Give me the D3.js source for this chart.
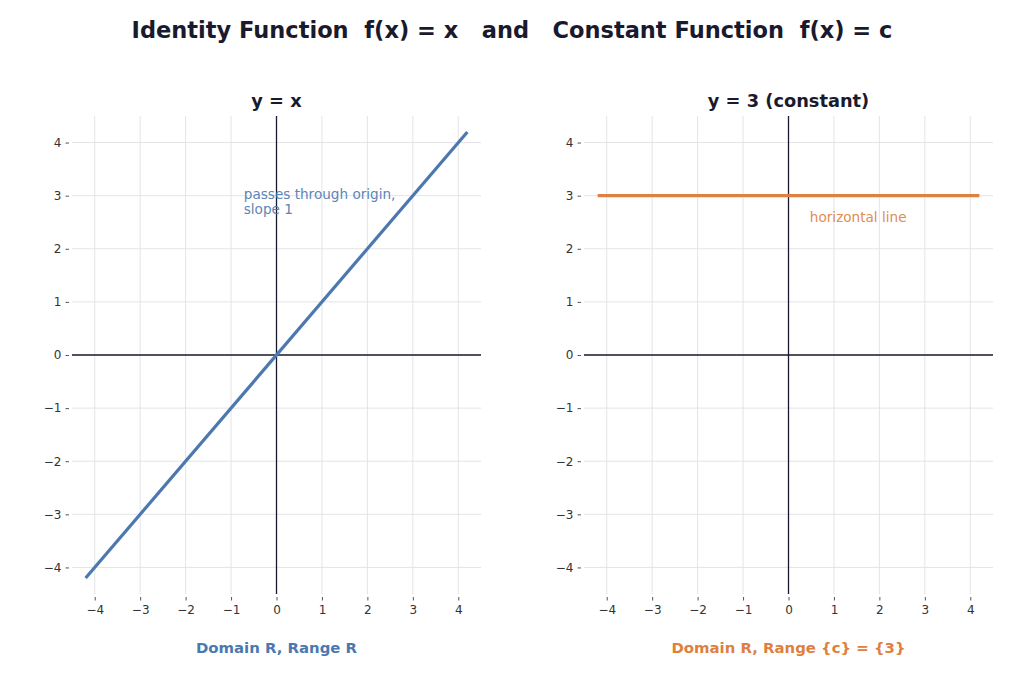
<!DOCTYPE html>
<html>
<head>
<meta charset="utf-8">
<script src="https://cdn.jsdelivr.net/npm/d3@7"></script>
<style>
  body { margin: 0; background: #fff; }
  text { font-family: "DejaVu Sans", sans-serif; }
</style>
</head>
<body>
<div id="chart"></div>
<script>
const W = 1024, H = 683

// data
const xTicks = [-4, -3, -2, -1, 0, 1, 2, 3, 4]
const yTicks = [-4, -3, -2, -1, 0, 1, 2, 3, 4]
const identityX = [-4.2, 4.2]
const identityY = [-4.2, 4.2]
const constX = [-4.2, 4.2]
const constY = [3, 3]

const panels = [
  {
    left: 72, title: 'y = x', color: '#4c78b0',
    xs: identityX, ys: identityY,
    note: ['passes through origin,', 'slope 1'], noteX: -0.72, noteY: 2.93,
    foot: 'Domain R, Range R'
  },
  {
    left: 584, title: 'y = 3 (constant)', color: '#dd8040',
    xs: constX, ys: constY,
    note: ['horizontal line'], noteX: 0.47, noteY: 2.5,
    foot: 'Domain R, Range {c} = {3}'
  }
]

const svg = d3.select('#chart').append('svg')
  .attr('width', W)
  .attr('height', H)

svg.append('text')
  .attr('x', W / 2).attr('y', 38)
  .attr('text-anchor', 'middle')
  .attr('font-size', 22.5).attr('font-weight', 'bold')
  .attr('fill', '#1a1a2e')
  .style('white-space', 'pre')
  .text('Identity Function  f(x) = x   and   Constant Function  f(x) = c')

const pw = 409, plotTop = 116, ph = 478
const minus = d => d < 0 ? '\u2212' + Math.abs(d) : d

panels.forEach(p => {
  const x = d3.scaleLinear().domain([-4.5, 4.5]).range([p.left, p.left + pw])
  const y = d3.scaleLinear().domain([-4.5, 4.5]).range([plotTop + ph, plotTop])
  const g = svg.append('g')

  // grid
  g.selectAll('.gx').data(xTicks).join('line')
    .attr('x1', d => x(d)).attr('x2', d => x(d))
    .attr('y1', plotTop).attr('y2', plotTop + ph)
    .attr('stroke', '#e1e1e5').attr('stroke-width', 0.9)
  g.selectAll('.gy').data(yTicks).join('line')
    .attr('y1', d => y(d)).attr('y2', d => y(d))
    .attr('x1', p.left).attr('x2', p.left + pw)
    .attr('stroke', '#e1e1e5').attr('stroke-width', 0.9)

  // axes without domain lines
  const xa = g.append('g')
    .attr('transform', `translate(0,${plotTop + ph})`)
    .call(d3.axisBottom(x).tickValues(xTicks).tickSize(3.5).tickPadding(5).tickFormat(minus))
  const ya = g.append('g')
    .attr('transform', `translate(${p.left},0)`)
    .call(d3.axisLeft(y).tickValues(yTicks).tickSize(3.5).tickPadding(4).tickFormat(minus))
  ;[xa, ya].forEach(a => {
    a.select('.domain').remove()
    a.selectAll('line').attr('stroke', '#555')
    a.selectAll('text').attr('fill', '#333').attr('font-size', 12)
      .attr('font-family', '"DejaVu Sans", sans-serif')
  })
  ya.selectAll('.tick line').attr('transform', 'translate(-3,0)')
  ya.selectAll('.tick text').attr('dx', -3)
  xa.selectAll('.tick line').attr('transform', 'translate(0,3)')
  xa.selectAll('.tick text').attr('transform', 'translate(0,3)')

  // zero lines
  g.append('line')
    .attr('x1', p.left).attr('x2', p.left + pw)
    .attr('y1', y(0)).attr('y2', y(0))
    .attr('stroke', '#1a1a2e').attr('stroke-width', 1.3)
  g.append('line')
    .attr('x1', x(0)).attr('x2', x(0))
    .attr('y1', plotTop).attr('y2', plotTop + ph)
    .attr('stroke', '#1a1a2e').attr('stroke-width', 1.3)

  // function line
  const pts = p.xs.map((v, i) => [v, p.ys[i]])
  g.append('path')
    .datum(pts)
    .attr('d', d3.line().x(d => x(d[0])).y(d => y(d[1])))
    .attr('fill', 'none')
    .attr('stroke', p.color)
    .attr('stroke-width', 3.2)

  // annotation
  const t = g.append('text')
    .attr('x', x(p.noteX)).attr('y', y(p.noteY))
    .attr('font-size', 13.6).attr('fill', p.color).attr('opacity', 0.9)
  p.note.forEach((s, i) => {
    t.append('tspan').attr('x', x(p.noteX)).attr('dy', i ? 15 : 0).text(s)
  })

  // titles
  g.append('text')
    .attr('x', p.left + pw / 2).attr('y', 107)
    .attr('text-anchor', 'middle')
    .attr('font-size', 17.8).attr('font-weight', 'bold')
    .attr('fill', '#1a1a2e')
    .text(p.title)
  g.append('text')
    .attr('x', p.left + pw / 2).attr('y', 653)
    .attr('text-anchor', 'middle')
    .attr('font-size', 14.9).attr('font-weight', 'bold')
    .attr('fill', p.color)
    .text(p.foot)
})
</script>
</body>
</html>
